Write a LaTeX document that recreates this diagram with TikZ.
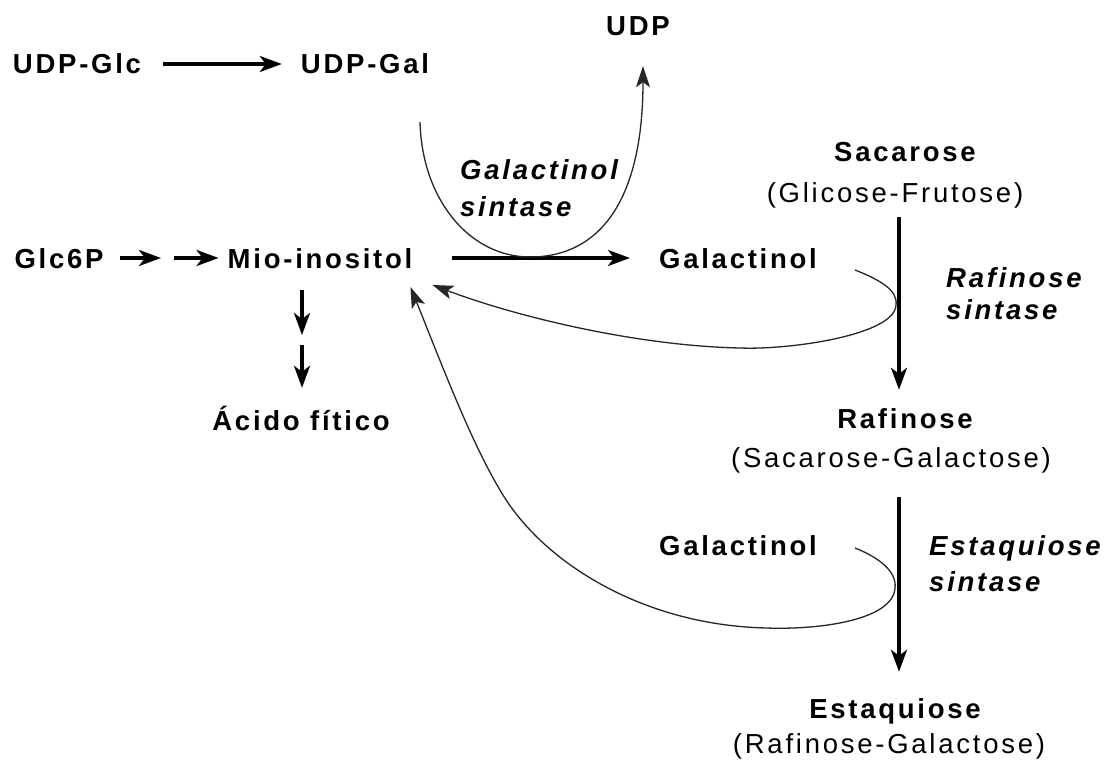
\documentclass[tikz,border=0pt]{standalone}
\usepackage{fontspec}
\setmainfont{Liberation Sans}[LetterSpace=10]
\usetikzlibrary{arrows.meta,calc}
\begin{document}
\begin{tikzpicture}[x=1pt,y=-1pt,
  lbl/.style={inner sep=0pt, text height=20pt, text depth=0pt, font=\fontsize{27.5}{32}\selectfont\bfseries},
  sub/.style={inner sep=0pt, text height=20pt, text depth=0pt, font=\fontsize{27.5}{32}\selectfont},
  enz/.style={inner sep=0pt, text height=20pt, text depth=0pt, anchor=west, font=\fontsize{27.5}{32}\selectfont\bfseries\itshape},
  arr/.style={line width=3.2pt, -{Stealth[length=22pt,width=16pt,inset=6pt]}},
  thinarr/.style={line width=1.3pt, draw=black!85, -{Stealth[length=21pt,width=14pt,inset=5pt]}},
]
\fill[white] (0,0) rectangle (1105,765);
\useasboundingbox (0,0) rectangle (1105,765);

% nodes
\node[lbl] (udpglc) at (77,64) {UDP-Glc};
\node[lbl] (udpgal) at (365,64) {UDP-Gal};
\node[lbl] (udp) at (638,26) {UDP};
\node[lbl] (glc6p) at (59,258) {Glc6P};
\node[lbl] (mio) at (320,258) {Mio-inositol};
\node[lbl] (gal1) at (738,258) {Galactinol};
\node[lbl] (acido) at (301,420) {Ácido fítico};
\node[lbl] (gal2) at (738,545) {Galactinol};

\node[lbl] (sac) at (905,151) {Sacarose};
\node[sub] (glifru) at (895,192) {(Glicose-Frutose)};
\node[lbl] (raf) at (905,418) {Rafinose};
\node[sub] (sacgal) at (891,457) {(Sacarose-Galactose)};
\node[lbl] (est) at (895,708) {Estaquiose};
\node[sub] (rafgal) at (889,743) {(Rafinose-Galactose)};

\node[enz] (gsA) at (460,169) {Galactinol};
\node[enz] (gsB) at (460,206) {sintase};
\node[enz] (rsA) at (946,277) {Rafinose};
\node[enz] (rsB) at (946,309) {sintase};
\node[enz] (esA) at (929,545) {Estaquiose};
\node[enz] (esB) at (929,581) {sintase};

% coordinates
\coordinate (gm) at (167,258);
\coordinate (ma) at (302,340);
\coordinate (v) at (899,0);
\coordinate (gsStart) at (420,122);

% straight arrows
\draw[arr, shorten <=22pt, shorten >=19pt] (udpglc) -- (udpgal);
\draw[arr, shorten <=16pt, shorten >=6pt] (glc6p) -- (gm);
\draw[arr, shorten <=7pt, shorten >=9pt] (gm) -- (mio);
\draw[arr, shorten <=40pt, shorten >=29pt] (mio) -- (gal1);
\draw[arr, shorten <=22pt, shorten >=5pt] (ma |- mio.south) -- (ma);
\draw[arr, shorten <=5pt, shorten >=22pt] (ma) -- (ma |- acido.north);
\draw[arr, shorten <=15pt, shorten >=18pt] (glifru.south -| v) -- (raf.north -| v);
\draw[arr, shorten <=30pt, shorten >=26pt] (sacgal.south -| v) -- (est.north -| v);

% curved thin arrows
\draw[thinarr] (gsStart) .. controls (422,200) and (470,257) .. (530,257)
  .. controls (600,257) and (643,200) .. ([xshift=5pt,yshift=-30pt]udp.south);
\draw[thinarr] ([xshift=38pt,yshift=-12pt]gal1.east) .. controls (880,280) and (898,290) .. (896,305)
  .. controls (895,335) and (790,350) .. (740,348)
  .. controls (640,346) and (520,318) .. ([xshift=20pt,yshift=-27pt]mio.east);
\draw[thinarr] ([xshift=38pt,yshift=-3pt]gal2.east) .. controls (880,558) and (897,572) .. (895,588)
  .. controls (893,620) and (820,630) .. (766,628)
  .. controls (640,625) and (540,560) .. (500,490)
  .. controls (470,440) and (440,360) .. ([xshift=-2pt,yshift=-29pt]mio.east);
\end{tikzpicture}
\end{document}
